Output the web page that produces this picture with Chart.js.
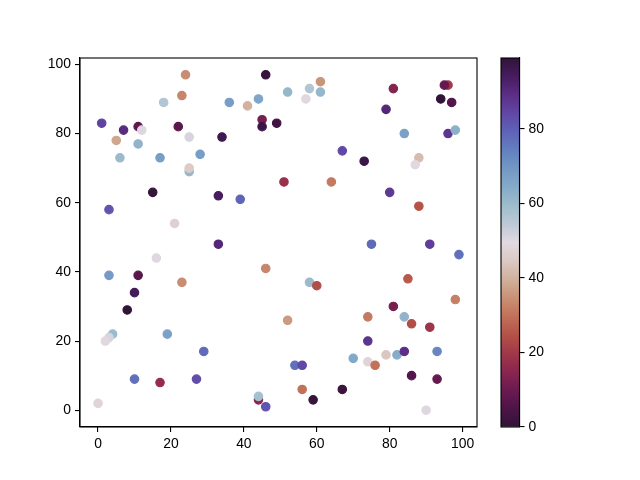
<!DOCTYPE html>
<html><head><meta charset="utf-8">
<script src="https://cdn.jsdelivr.net/npm/chart.js@4/dist/chart.umd.min.js"></script>
<style>
html,body{margin:0;padding:0;background:#fff;}
#wrap{position:relative;width:640px;height:480px;}
canvas{position:absolute;left:0;top:0;}
</style></head><body>
<div id="wrap"><canvas id="main" width="640" height="480"></canvas><canvas id="cbar" width="640" height="480"></canvas></div>
<script>
// ---- data ----
const xValues = [24,46,23,18,36,41,44,45,45,49,1,7,11,12,5,11,22,25,34,6,17,28,25,25,15,33,39,3,21,
  61,52,58,61,57,81,96,95,94,97,79,84,96,98,67,73,88,87,51,64,80,88,
  33,16,46,3,11,23,10,8,4,3,2,19,29,10,17,27,0,44,44,46,
  75,91,99,58,60,85,98,81,52,74,84,86,91,74,70,74,76,79,82,84,93,54,56,86,93,56,67,59,90];
const yValues = [97,97,91,89,89,88,90,84,82,83,83,81,82,81,78,77,82,79,79,73,73,74,69,70,63,62,61,58,54,
  95,92,93,92,90,93,94,94,90,89,87,80,80,81,75,72,73,71,66,66,63,59,
  48,44,41,39,39,37,34,29,22,21,20,22,17,9,8,9,2,3,4,1,
  48,48,45,37,36,38,32,30,26,27,27,25,24,20,15,14,13,16,16,17,17,13,13,10,9,6,6,3,0];
const colorValues = [34,1,33,56,68,40,66,12,97,3,85,90,8,50,38,62,7,51,96,60,68,68,61,45,1,94,79,82,47,
  35,61,56,61,49,14,20,9,99,6,91,67,88,63,84,97,42,49,18,31,87,25,
  91,50,33,69,7,34,95,0,60,51,49,67,78,77,17,83,48,15,58,82,
  78,86,77,60,24,26,32,12,36,31,62,24,19,88,65,48,30,44,64,89,73,77,84,6,9,30,2,1,50];
const xTicks = [0,20,40,60,80,100];
const yTicks = [0,20,40,60,80,100];
const cbarTicks = [0,20,40,60,80];

// twilight_shifted approximation (21 stops, t = i/20)
const cmapStops = [
  [0.19,0.08,0.22],[0.30,0.08,0.28],[0.42,0.10,0.32],[0.54,0.15,0.31],[0.63,0.22,0.29],
  [0.71,0.32,0.28],[0.76,0.44,0.35],[0.79,0.57,0.46],[0.82,0.69,0.61],[0.86,0.79,0.77],
  [0.886,0.850,0.888],[0.74,0.79,0.84],[0.62,0.74,0.80],[0.52,0.67,0.79],[0.45,0.60,0.77],
  [0.39,0.50,0.75],[0.37,0.39,0.72],[0.38,0.28,0.65],[0.36,0.18,0.53],[0.28,0.11,0.37],
  [0.19,0.08,0.22]
];
function rgbStr(c){return 'rgb('+Math.round(c[0]*255)+','+Math.round(c[1]*255)+','+Math.round(c[2]*255)+')';}
function cmap(t){
  t = Math.max(0, Math.min(1, t));
  const f = t*(cmapStops.length-1);
  const i = Math.min(Math.floor(f), cmapStops.length-2);
  const u = f - i;
  const a = cmapStops[i], b = cmapStops[i+1];
  return rgbStr([a[0]+(b[0]-a[0])*u, a[1]+(b[1]-a[1])*u, a[2]+(b[2]-a[2])*u]);
}
const cMin = Math.min(...colorValues), cMax = Math.max(...colorValues);
const pointColors = colorValues.map(v => cmap((v-cMin)/(cMax-cMin)));

Chart.defaults.font.family = "'Liberation Sans', Arial, sans-serif";
Chart.defaults.font.size = 13.9;
Chart.defaults.color = '#000';

const boxPlugin = {
  id: 'box',
  afterDraw(chart){
    const a = chart.chartArea, ctx = chart.ctx;
    ctx.save(); ctx.strokeStyle = '#000'; ctx.lineWidth = 1.1;
    ctx.strokeRect(a.left, a.top, a.right-a.left, a.bottom-a.top);
    ctx.restore();
  }
};

function axisStyle(){
  return {
    grid: {drawOnChartArea:false, drawTicks:true, tickLength:5, color:'#000', lineWidth:1.1},
    border: {display:true, color:'#000', width:1.1},
    ticks: {color:'#000', padding:4, maxRotation:0, autoSkip:false}
  };
}

new Chart(document.getElementById('main'), {
  type: 'scatter',
  data: { datasets: [{
    data: xValues.map((x,i)=>({x:x, y:yValues[i]})),
    pointBackgroundColor: pointColors,
    pointBorderColor: pointColors,
    pointRadius: 4.2,
    pointBorderWidth: 1.2
  }]},
  options: {
    responsive:false, animation:false,
    layout: {padding:{left:0, top:58, right:163, bottom:0}},
    plugins: {legend:{display:false}, tooltip:{enabled:false}},
    scales: {
      x: Object.assign(axisStyle(), {type:'linear', min:-4.95, max:103.95,
        afterBuildTicks: s => { s.ticks = xTicks.map(v=>({value:v})); },
        afterFit: s => { s.height = 53; }}),
      y: Object.assign(axisStyle(), {type:'linear', min:-4.85, max:101.85,
        afterBuildTicks: s => { s.ticks = yTicks.map(v=>({value:v})); },
        afterFit: s => { s.width = 80; }})
    }
  },
  plugins: [boxPlugin]
});

new Chart(document.getElementById('cbar'), {
  type: 'bar',
  data: { labels: [''], datasets: [{
    data: [[cMin, cMax]],
    borderWidth: 0,
    barPercentage: 1, categoryPercentage: 1,
    backgroundColor: (ctx) => {
      const chart = ctx.chart;
      if (!chart.chartArea) return '#000';
      const ys = chart.scales.y;
      const g = chart.ctx.createLinearGradient(0, ys.getPixelForValue(cMin), 0, ys.getPixelForValue(cMax));
      for (let i=0;i<cmapStops.length;i++) g.addColorStop(i/(cmapStops.length-1), rgbStr(cmapStops[i]));
      return g;
    }
  }]},
  options: {
    responsive:false, animation:false,
    layout: {padding:{left:501, top:58, right:0, bottom:53}},
    plugins: {legend:{display:false}, tooltip:{enabled:false}},
    scales: {
      x: {display:false},
      y: Object.assign(axisStyle(), {position:'right', min:cMin, max:cMax,
        afterBuildTicks: s => { s.ticks = cbarTicks.map(v=>({value:v})); },
        afterFit: s => { s.width = 120.5; }})
    }
  },
  plugins: [boxPlugin]
});
</script>
</body></html>
